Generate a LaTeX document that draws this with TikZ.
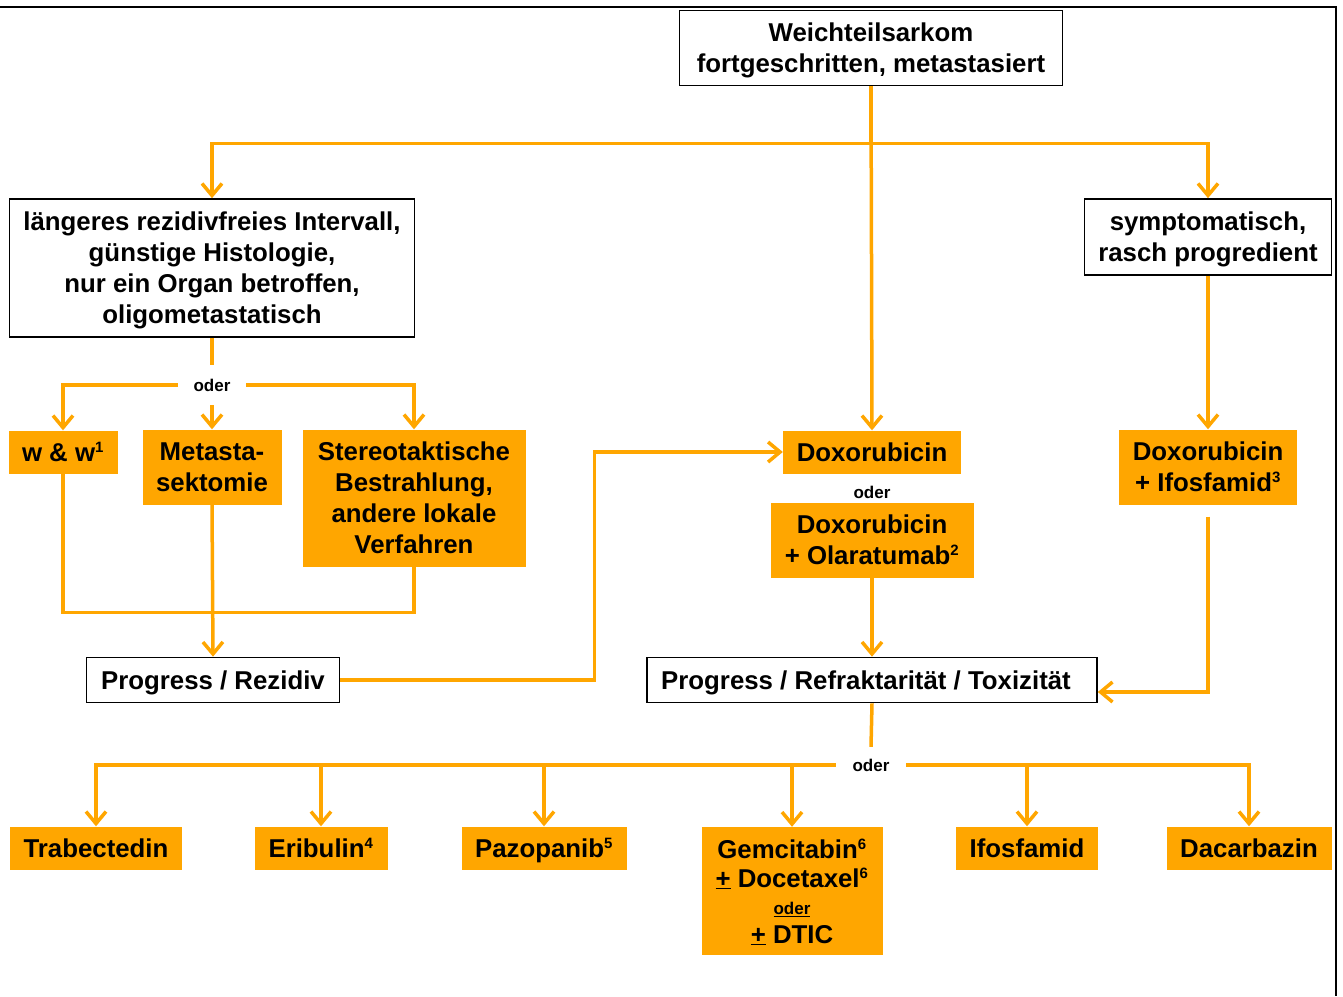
\documentclass[tikz,border=0pt]{standalone}
\usepackage{fontspec}
\setmainfont{Liberation Sans}
\usetikzlibrary{arrows.meta}
\definecolor{sarkorange}{RGB}{255,166,0}
\newcommand*\hochz[1]{\textsuperscript{\fontsize{15}{15}\selectfont #1}}
\tikzset{
  box/.style={align=center, inner sep=0pt, text depth=0pt, font=\bfseries\fontsize{25.8}{31}\selectfont},
  whitebox/.style={box, draw=black, line width=1.6pt, fill=white},
  orangebox/.style={box, fill=sarkorange},
  oderlabel/.style={inner sep=0pt, font=\bfseries\fontsize{17}{20}\selectfont},
  flow/.style={draw=sarkorange, line width=3.5pt, -{Straight Barb[length=12pt,width=20pt]}},
  flowline/.style={draw=sarkorange, line width=3.5pt}
}
\begin{document}
\begin{tikzpicture}[x=1pt,y=-1pt]
        \useasboundingbox (0,0) rectangle (1343,996);
        \draw[line width=2pt] (0,7) -- (1336,7) -- (1336,996);

        \node[whitebox, minimum width=383, minimum height=75] (top) at (871,48) {Weichteilsarkom\\fortgeschritten, metastasiert};
        \node[whitebox, minimum width=405, minimum height=138] (lang) at (212,268) {längeres rezidivfreies Intervall,\\günstige Histologie,\\nur ein Organ betroffen,\\oligometastatisch};
        \node[whitebox, minimum width=247, minimum height=76] (symp) at (1208,237) {symptomatisch,\\rasch progredient};

        \node[oderlabel, minimum width=68, minimum height=40] (oder1) at (212,385) {oder};
        \node[orangebox, minimum width=109, minimum height=43] (ww) at (63,452) {w \& w\hochz{1}};
        \node[orangebox, minimum width=139, minimum height=75] (meta) at (212,467) {Metasta-\\sektomie};
        \node[orangebox, minimum width=223, minimum height=137] (stereo) at (414,498) {Stereotaktische\\Bestrahlung,\\andere lokale\\Verfahren};
        \node[whitebox, minimum width=253, minimum height=45] (prog1) at (213,680) {Progress / Rezidiv};

        \node[orangebox, minimum width=178, minimum height=43] (dox) at (872,452) {Doxorubicin};
        \node[oderlabel] (oder2) at (872,492) {oder};
        \node[orangebox, minimum width=203, minimum height=75] (dolar) at (872,540) {Doxorubicin\\+ Olaratumab\hochz{2}};
        \node[orangebox, minimum width=178, minimum height=75] (doxifo) at (1208,467) {Doxorubicin\\+ Ifosfamid\hochz{3}};
        \node[whitebox, minimum width=450, minimum height=45] (prog2) at (872,680) {Progress / Refraktarität / Toxizität\hspace{12pt}};

        \node[oderlabel, minimum width=70, minimum height=36] (oder3) at (871,765) {oder};
        \node[orangebox, minimum width=172, minimum height=43] (trab) at (96,848) {Trabectedin};
        \node[orangebox, minimum width=133, minimum height=43] (eri) at (321,848) {Eribulin\hochz{4}};
        \node[orangebox, minimum width=165, minimum height=43] (pazo) at (544,848) {Pazopanib\hochz{5}};
        \node[orangebox, minimum width=181, minimum height=128] (gem) at (792,891) {Gemcitabin\hochz{6}\\[-2pt]\underline{+} Docetaxel\hochz{6}\\[-4pt]{\fontsize{17}{20}\selectfont\underline{oder}}\\[-2pt]\underline{+} DTIC};
        \node[orangebox, minimum width=142, minimum height=43] (ifo) at (1027,848) {Ifosfamid};
        \node[orangebox, minimum width=165, minimum height=43] (dac) at (1249,848) {Dacarbazin};

        % first split
        \draw[flow] (top.south) -- (dox.north);
        \draw[flow] (top.south) -- ++(0,57) -| (lang.north);
        \draw[flow] (top.south) -- ++(0,57) -| (symp.north);

        % local therapy
        \draw[flowline] (lang.south) -- (oder1.north);
        \draw[flow] (oder1.west) -| (ww.north);
        \draw[flow] (oder1.south) -- (meta.north);
        \draw[flow] (oder1.east) -| (stereo.north);
        \draw[flowline] (ww.south) -- ++(0,139) -| (stereo.south);
        \draw[flow] (meta.south) -- (prog1.north);
        \draw[flow] (prog1.east) -- ++(254,0) |- (dox.west);

        % systemic therapy
        \draw[flow] (dolar.south) -- (prog2.north);
        \draw[flow] (symp.south) -- (doxifo.north);
        \draw[flow, shorten <=12pt] (doxifo.south) |- ([yshift=-12pt]prog2.east);

        % second line
        \draw[flowline] (prog2.south) -- (oder3.north);
        \draw[flow] (oder3.west) -| (trab.north);
        \draw[flow] (oder3.west) -| (eri.north);
        \draw[flow] (oder3.west) -| (pazo.north);
        \draw[flow] (oder3.west) -| (gem.north);
        \draw[flow] (oder3.east) -| (ifo.north);
        \draw[flow] (oder3.east) -| (dac.north);
    \end{tikzpicture}
\end{document}
